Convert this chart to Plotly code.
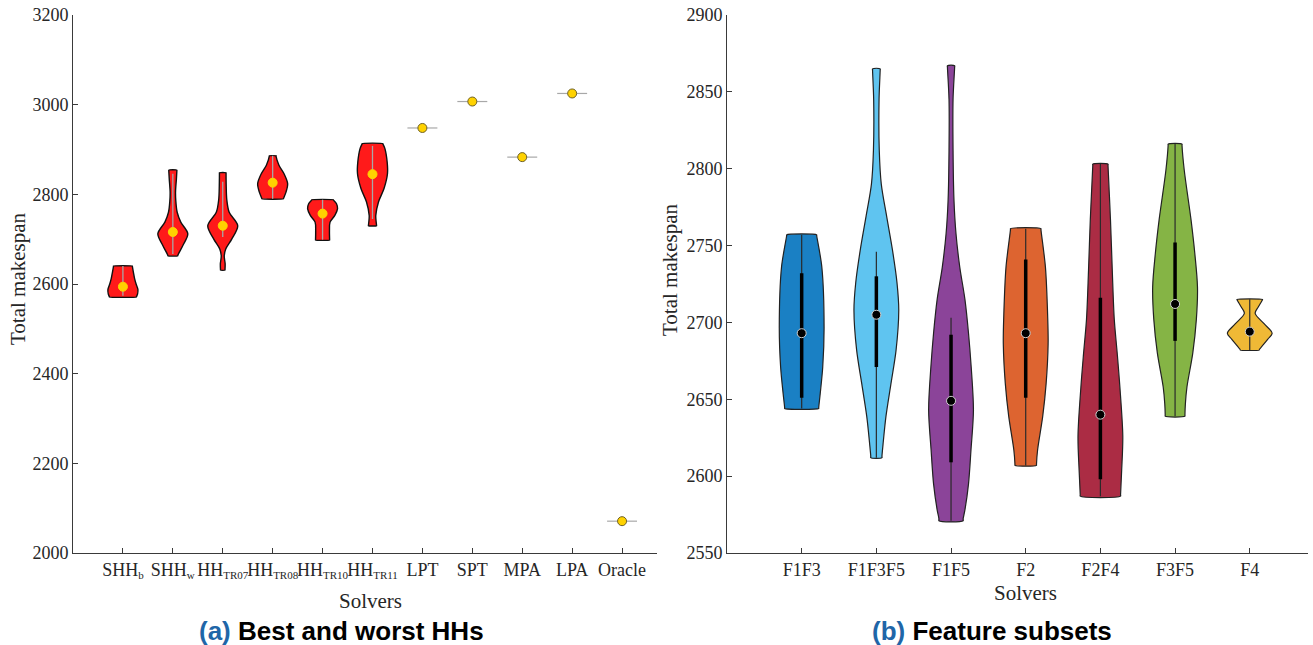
import plotly.graph_objects as go

# ---------------- Panel (a): best and worst HHs ----------------
SUB = "<sub><span style='font-size:11px'>{}</span></sub>"
hh_solvers = ["SHH" + SUB.format("b"), "SHH" + SUB.format("w"), "HH" + SUB.format("TR07"),
              "HH" + SUB.format("TR08"), "HH" + SUB.format("TR10"), "HH" + SUB.format("TR11"),
              "LPT", "SPT", "MPA", "LPA", "Oracle"]
hh_median = [2594, 2716, 2730, 2826, 2757, 2845, 2948, 3007, 2883, 3025, 2071]
hh_whisker_lo = [2574, 2667, 2705, 2790, 2699, 2745, 2948, 3007, 2883, 3025, 2071]
hh_whisker_hi = [2640, 2846, 2828, 2886, 2788, 2908, 2948, 3007, 2883, 3025, 2071]
# makespan levels and relative kernel density at each level
hh_levels = [
    [2571, 2578, 2588, 2600, 2612, 2626, 2640],
    [2663, 2686, 2712, 2738, 2760, 2785, 2805, 2835, 2854],
    [2631, 2645, 2663, 2678, 2700, 2730, 2760, 2788, 2820, 2848],
    [2790, 2805, 2824, 2846, 2865, 2886],
    [2698, 2719, 2738, 2753, 2768, 2779, 2788],
    [2730, 2753, 2783, 2813, 2846, 2872, 2902, 2913],
    [2948], [3007], [2883], [3025], [2071],
]
hh_density = [
    [0.90, 0.98, 1.00, 0.88, 0.78, 0.70, 0.63],
    [0.33, 0.67, 1.00, 0.53, 0.29, 0.20, 0.18, 0.24, 0.27],
    [0.15, 0.16, 0.10, 0.20, 0.60, 1.00, 0.43, 0.27, 0.23, 0.22],
    [0.72, 0.89, 1.00, 0.76, 0.42, 0.22],
    [0.47, 0.46, 0.50, 0.82, 1.00, 0.93, 0.72],
    [0.27, 0.22, 0.40, 0.77, 1.00, 0.98, 0.83, 0.70],
    [1.0], [1.0], [1.0], [1.0], [1.0],
]

# ---------------- Panel (b): feature subsets ----------------
fs_solvers = ["F1F3", "F1F3F5", "F1F5", "F2", "F2F4", "F3F5", "F4"]
fs_median = [2693, 2705, 2649, 2693, 2640, 2712, 2694]
fs_q1 = [2651, 2671, 2609, 2651, 2598, 2688, 2692]
fs_q3 = [2732, 2730, 2692, 2741, 2716, 2752, 2697]
fs_whisker_lo = [2644, 2612, 2571, 2607, 2587, 2639, 2682]
fs_whisker_hi = [2757, 2746, 2703, 2761, 2803, 2816, 2715]
fs_levels = [
    [2644, 2654, 2671, 2697, 2736, 2757],
    [2612, 2621, 2639, 2660, 2682, 2708, 2726, 2747, 2769, 2790, 2812, 2845, 2865],
    [2571, 2578, 2595, 2617, 2643, 2671, 2693, 2715, 2736, 2758, 2780, 2812, 2845, 2867],
    [2607, 2617, 2639, 2660, 2686, 2704, 2736, 2761],
    [2587, 2604, 2626, 2658, 2680, 2702, 2734, 2767, 2803],
    [2639, 2647, 2658, 2680, 2702, 2723, 2745, 2767, 2799, 2816],
    [2682, 2689, 2693, 2699, 2706, 2710, 2715],
]
fs_density = [
    [0.76, 0.83, 0.94, 1.00, 0.90, 0.67],
    [0.25, 0.30, 0.43, 0.65, 0.88, 1.00, 0.92, 0.72, 0.46, 0.22, 0.13, 0.12, 0.17],
    [0.54, 0.62, 0.78, 0.89, 1.00, 0.90, 0.78, 0.62, 0.39, 0.22, 0.13, 0.09, 0.09, 0.16],
    [0.48, 0.53, 0.76, 0.91, 1.00, 0.98, 0.88, 0.68],
    [0.90, 0.95, 1.00, 0.87, 0.75, 0.62, 0.53, 0.45, 0.34],
    [0.44, 0.46, 0.53, 0.79, 0.95, 1.00, 0.88, 0.71, 0.41, 0.31],
    [0.42, 0.80, 1.00, 0.65, 0.24, 0.38, 0.57],
]
fs_colors = ["#1A80C4", "#5FC4F0", "#8B4499", "#DD6430", "#AB2C44", "#85B445", "#EFB936"]

HALF = 0.3          # half of the widest violin, in category units
SERIF = "Liberation Serif"
SANS = "Liberation Sans"

fig = go.Figure()


def violin_outline(pos, levels, density):
    """Closed outline of one violin; the flat ends keep square corners under spline smoothing."""
    eps = (levels[-1] - levels[0]) * 0.004
    ys = [levels[0], levels[0] + eps] + list(levels[1:-1]) + [levels[-1] - eps, levels[-1]]
    ds = [density[0], density[0]] + list(density[1:-1]) + [density[-1], density[-1]]
    xs = [pos - HALF * d for d in ds] + [pos + HALF * d for d in reversed(ds)]
    yy = ys + list(reversed(ys))
    return xs + [xs[0]], yy + [yy[0]]


def add_violin(pos, levels, density, fill, edge, edge_w, xa, ya):
    xs, ys = violin_outline(pos, levels, density)
    fig.add_trace(go.Scatter(x=xs, y=ys, mode="lines", fill="toself", fillcolor=fill,
                             line=dict(color=edge, width=edge_w, shape="spline", smoothing=0.9),
                             xaxis=xa, yaxis=ya, hoverinfo="skip", showlegend=False))


# panel (a)
for i, name in enumerate(hh_solvers):
    pos = i + 1
    lv, dn = hh_levels[i], hh_density[i]
    if len(lv) > 1:
        add_violin(pos, lv, dn, "#FF1A1A", "#111111", 1.4, "x", "y")
        fig.add_trace(go.Scatter(x=[pos, pos], y=[hh_whisker_lo[i], hh_whisker_hi[i]], mode="lines",
                                 line=dict(color="#A8A8A8", width=1.3), xaxis="x", yaxis="y",
                                 hoverinfo="skip", showlegend=False))
    else:
        fig.add_trace(go.Scatter(x=[pos - HALF * dn[0], pos + HALF * dn[0]], y=[lv[0], lv[0]],
                                 mode="lines", line=dict(color="#A8A8A8", width=1.2),
                                 xaxis="x", yaxis="y", hoverinfo="skip", showlegend=False))

hh_pos = list(range(1, len(hh_solvers) + 1))
hh_single = [len(lv) == 1 for lv in hh_levels]
fig.add_trace(go.Scatter(x=hh_pos, y=hh_median, mode="markers",
                         marker=dict(size=9, color="#FFD200",
                                     line=dict(color=["#6E6128" if s else "#FFD200" for s in hh_single],
                                               width=1)),
                         xaxis="x", yaxis="y", hoverinfo="skip", showlegend=False))

# panel (b)
for i, name in enumerate(fs_solvers):
    pos = i + 1
    add_violin(pos, fs_levels[i], fs_density[i], fs_colors[i], "#222222", 1.2, "x2", "y2")
    fig.add_trace(go.Scatter(x=[pos, pos], y=[fs_whisker_lo[i], fs_whisker_hi[i]], mode="lines",
                             line=dict(color="#2A2A2A", width=1.2), xaxis="x2", yaxis="y2",
                             hoverinfo="skip", showlegend=False))
    fig.add_trace(go.Scatter(x=[pos, pos], y=[fs_q1[i], fs_q3[i]], mode="lines",
                             line=dict(color="#000000", width=3.5), xaxis="x2", yaxis="y2",
                             hoverinfo="skip", showlegend=False))

fs_pos = list(range(1, len(fs_solvers) + 1))
fig.add_trace(go.Scatter(x=fs_pos, y=fs_median, mode="markers",
                         marker=dict(size=9, color="#000000", line=dict(color="#D0D0D0", width=1)),
                         xaxis="x2", yaxis="y2", hoverinfo="skip", showlegend=False))

# ---------------- layout ----------------
W, H = 1313, 645
ML, MR, MT, MB = 73, 5, 15, 92
PW, PH = W - ML - MR, H - MT - MB


def px_x(px):
    return (px - ML) / PW


def px_y(py):
    return (H - MB - py) / PH


axis_common = dict(showline=True, linecolor="#3A3A3A", linewidth=1, ticks="inside", ticklen=5,
                   tickcolor="#3A3A3A", showgrid=False, zeroline=False, mirror=False,
                   tickfont=dict(family=SERIF, size=18, color="#262626"))

fig.update_layout(
    width=W, height=H,
    margin=dict(l=ML, r=MR, t=MT, b=MB),
    paper_bgcolor="white", plot_bgcolor="white",
    showlegend=False,
    xaxis=dict(domain=[0, px_x(657)], range=[0, 11.7], tickmode="array", tickvals=hh_pos,
               ticktext=hh_solvers, tickangle=0, anchor="y", **axis_common),
    yaxis=dict(domain=[0, 1], range=[2000, 3200], dtick=200, tick0=2000, anchor="x", **axis_common),
    xaxis2=dict(domain=[px_x(727), 1], range=[0, 7.78], tickmode="array", tickvals=fs_pos,
                ticktext=fs_solvers, tickangle=0, anchor="y2", **axis_common),
    yaxis2=dict(domain=[0, 1], range=[2550, 2900], dtick=50, tick0=2550, anchor="x2", **axis_common),
)

title_font = dict(family=SERIF, size=21, color="#262626")
caption_font = dict(family=SANS, size=26, color="#000000")
annotations = [
    dict(x=px_x(18), y=px_y(279), text="Total makespan", textangle=-90, font=title_font),
    dict(x=px_x(670), y=px_y(270), text="Total makespan", textangle=-90, font=title_font),
    dict(x=px_x(370), y=px_y(601), text="Solvers", font=title_font),
    dict(x=px_x(1025), y=px_y(593), text="Solvers", font=title_font),
    dict(x=px_x(341), y=px_y(631),
         text="<b><span style='color:#1F66A8'>(a)</span> Best and worst HHs</b>", font=caption_font),
    dict(x=px_x(992), y=px_y(631),
         text="<b><span style='color:#1F66A8'>(b)</span> Feature subsets</b>", font=caption_font),
]
for a in annotations:
    a.update(xref="paper", yref="paper", showarrow=False, xanchor="center", yanchor="middle")
fig.update_layout(annotations=annotations)

fig.write_html("out.html")
